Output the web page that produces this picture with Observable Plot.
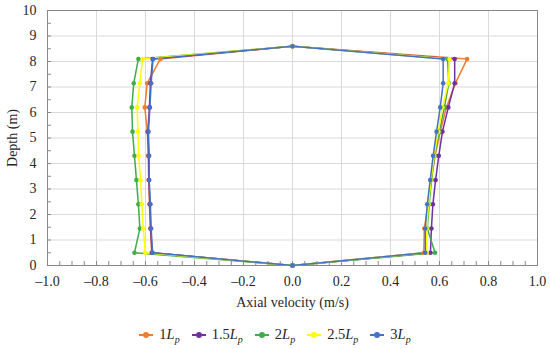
<!DOCTYPE html>
<html>
<head>
<meta charset="utf-8">
<script src="https://cdn.jsdelivr.net/npm/d3@7"></script>
<script src="https://cdn.jsdelivr.net/npm/@observablehq/plot@0.6"></script>
<style>
  html, body { margin: 0; padding: 0; background: #fff; }
  #chart { width: 550px; height: 314px; }
  #chart svg text { font-family: "Liberation Serif", serif !important; font-size: 14px !important; fill: #262626; }
  .legend { display: flex; justify-content: center; gap: 12px; font-family: "Liberation Serif", serif; font-size: 14.5px; color: #262626; margin-top: 12px; padding-left: 0px; }
  .item { display: flex; align-items: center; gap: 6px; }
  .sw { position: relative; width: 14px; height: 10px; }
  .sw .ln { position: absolute; left: 0; right: 0; top: 4px; height: 2px; }
  .sw .dt { position: absolute; left: 4px; top: 2px; width: 6px; height: 6px; border-radius: 50%; }
  sub { font-size: 10px; font-style: italic; }
</style>
</head>
<body>
<div id="chart"></div>
<script>
// Depths (m) of the side measuring points, bottom to top
const depths = [0.5, 1.45, 2.4, 3.35, 4.3, 5.25, 6.2, 7.15, 8.1];
const topDepth = 8.6;
const seriesNames = ["1Lp", "1.5Lp", "2Lp", "2.5Lp", "3Lp"];
const seriesColors = ["#ED7D31", "#7030A0", "#3DAE49", "#FFFF00", "#4472C4"];
// Left side (negative) axial velocity per depth
const left1 = [-0.575, -0.580, -0.584, -0.587, -0.589, -0.592, -0.603, -0.593, -0.539];
const left15 = [-0.573, -0.579, -0.582, -0.586, -0.587, -0.590, -0.584, -0.580, -0.571];
const left2 = [-0.645, -0.623, -0.629, -0.637, -0.645, -0.653, -0.656, -0.648, -0.629];
const left25 = [-0.601, -0.609, -0.615, -0.620, -0.628, -0.631, -0.634, -0.623, -0.612];
const left3 = [-0.571, -0.577, -0.580, -0.585, -0.585, -0.588, -0.582, -0.577, -0.569];
// Right side (positive) axial velocity per depth
const right1 = [0.536, 0.538, 0.553, 0.566, 0.582, 0.603, 0.628, 0.665, 0.713];
const right15 = [0.563, 0.567, 0.573, 0.584, 0.597, 0.612, 0.636, 0.662, 0.662];
const right2 = [0.582, 0.550, 0.558, 0.567, 0.580, 0.599, 0.620, 0.638, 0.633];
const right25 = [0.548, 0.548, 0.555, 0.565, 0.578, 0.595, 0.612, 0.636, 0.641];
const right3 = [0.542, 0.542, 0.550, 0.562, 0.574, 0.588, 0.603, 0.615, 0.615];
const xTicks = [-1.0, -0.8, -0.6, -0.4, -0.2, 0.0, 0.2, 0.4, 0.6, 0.8, 1.0];
const yTicks = [0, 1, 2, 3, 4, 5, 6, 7, 8, 9, 10];

const lefts = [left1, left15, left2, left25, left3];
const rights = [right1, right15, right2, right25, right3];
const data = [];
seriesNames.forEach((name, s) => {
  data.push({series: name, v: 0, d: 0});
  depths.forEach((d, k) => data.push({series: name, v: lefts[s][k], d}));
  data.push({series: name, v: 0, d: topDepth});
  for (let k = depths.length - 1; k >= 0; k--) data.push({series: name, v: rights[s][k], d: depths[k]});
  data.push({series: name, v: 0, d: 0});
});

const font = "'Liberation Serif', serif";
const minorX = d3.range(-20, 21).map(k => k * 0.05);
const minorY = d3.range(0, 21).map(k => k * 0.5);
const fmtX = v => v.toFixed(1).replace("-", "\u2013");

const plot = Plot.plot({
  width: 550,
  height: 312,
  marginLeft: 47,
  marginRight: 13,
  marginTop: 10,
  marginBottom: 47,
  style: `font-family: ${font}; font-size: 14px; color: #262626; background: #fff;`,
  x: { domain: [-1, 1] },
  y: { domain: [0, 10] },
  color: { domain: seriesNames, range: seriesColors },
  marks: [
    Plot.gridX(xTicks, { stroke: "#d9d9d9", strokeOpacity: 1 }),
    Plot.gridY(yTicks, { stroke: "#d9d9d9", strokeOpacity: 1 }),
    Plot.axisX(minorX, { tickSize: -4, text: null, label: null, stroke: "#888" }),
    Plot.axisY(minorY, { tickSize: -4, text: null, label: null, stroke: "#888" }),
    Plot.axisX(xTicks, { tickSize: 0, tickPadding: 11, tickFormat: fmtX, label: "Axial velocity (m/s)", labelAnchor: "center", labelArrow: "none", labelOffset: 41 }),
    Plot.axisY(yTicks, { tickSize: 0, tickPadding: 11, label: "Depth (m)", labelAnchor: "center", labelArrow: "none", labelOffset: 40 }),
    Plot.frame({ stroke: "#888" }),
    Plot.line(data, { x: "v", y: "d", z: "series", stroke: "series", strokeWidth: 1.5, sort: null }),
    Plot.dot(data, { x: "v", y: "d", fill: "series", r: 2.3 })
  ]
});
document.getElementById("chart").appendChild(plot);

const legend = document.createElement("div");
legend.className = "legend";
seriesNames.forEach((name, s) => {
  const num = name.replace("Lp", "");
  const it = document.createElement("div");
  it.className = "item";
  it.innerHTML = `<span class="sw"><span class="ln" style="background:${seriesColors[s]}"></span><span class="dt" style="background:${seriesColors[s]}"></span></span><span>${num}<i>L</i><sub>p</sub></span>`;
  legend.appendChild(it);
});
document.body.appendChild(legend);
</script>
</body>
</html>
